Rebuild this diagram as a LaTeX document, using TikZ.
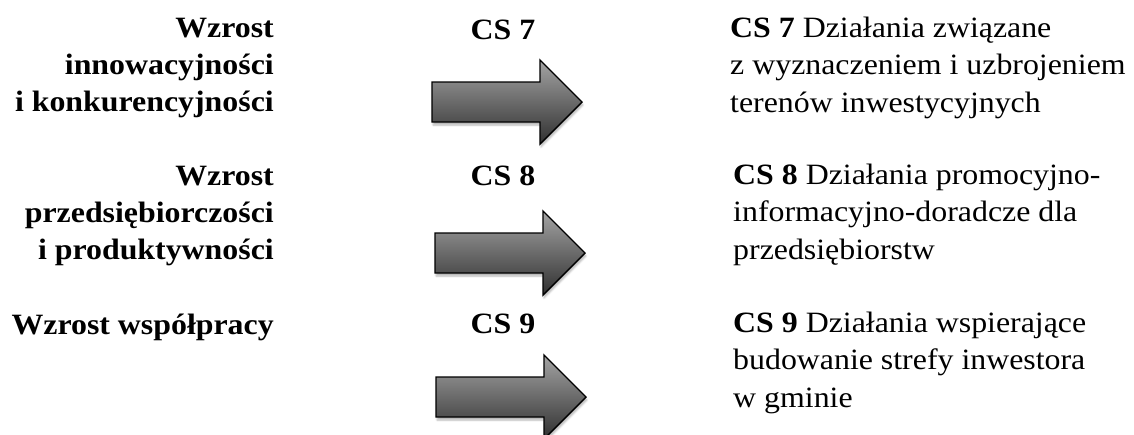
\documentclass[tikz,border=0pt]{standalone}
\usepackage{fontspec}
\setmainfont{Liberation Serif}
\usetikzlibrary{shadows.blur}
\definecolor{shtop}{HTML}{A4A4A4}
\definecolor{shmid}{HTML}{CCCCCC}
\definecolor{shbot}{HTML}{303030}
\tikzset{
  bigarrow/.style={draw=black, line width=1.4pt, line join=miter,
    top color=shtop, middle color=shmid, bottom color=shbot,
    blur shadow={shadow xshift=1pt, shadow yshift=-3pt, shadow blur steps=6, shadow opacity=30}},
  txt/.style={inner sep=0pt, font=\fontsize{29.5}{37.2}\selectfont, xscale=1.08, transform shape},
  goal/.style={txt, align=right, anchor=north east},
  cs/.style={txt, font=\fontsize{29.5}{37.2}\selectfont\bfseries, anchor=base},
  desc/.style={txt, align=left, anchor=north west}
}
\begin{document}
\begin{tikzpicture}[x=1pt, y=-1pt]
\useasboundingbox (0,0) rectangle (1134,434);
% arrows
\foreach \x/\y in {432/102, 435/253, 436/397}{
  \path[bigarrow] (\x,\y-20) -- (\x+108,\y-20) -- (\x+108,\y-42) -- (\x+150,\y)
    -- (\x+108,\y+42) -- (\x+108,\y+20) -- (\x,\y+20) -- cycle;
}
% left goals
\node[goal] (g1) at (274,18) {\textbf{Wzrost}\\ \textbf{innowacyjności}\\ \textbf{i konkurencyjności}};
\node[goal] (g2) at (274,166) {\textbf{Wzrost}\\ \textbf{przedsiębiorczości}\\ \textbf{i produktywności}};
\node[goal] (g3) at (274,314) {\textbf{Wzrost współpracy}};
% CS labels
\node[cs] (c7) at (503,39) {CS 7};
\node[cs] (c8) at (503,185) {CS 8};
\node[cs] (c9) at (503,333) {CS 9};
% descriptions
\node[desc] (d7) at (730,17) {\textbf{CS 7} Działania związane\\ z wyznaczeniem i uzbrojeniem\\ terenów inwestycyjnych};
\node[desc] (d8) at (733,164) {\textbf{CS 8} Działania promocyjno-\\ informacyjno-doradcze dla\\ przedsiębiorstw};
\node[desc] (d9) at (733,312) {\textbf{CS 9} Działania wspierające\\ budowanie strefy inwestora\\ w gminie};
\end{tikzpicture}
\end{document}
